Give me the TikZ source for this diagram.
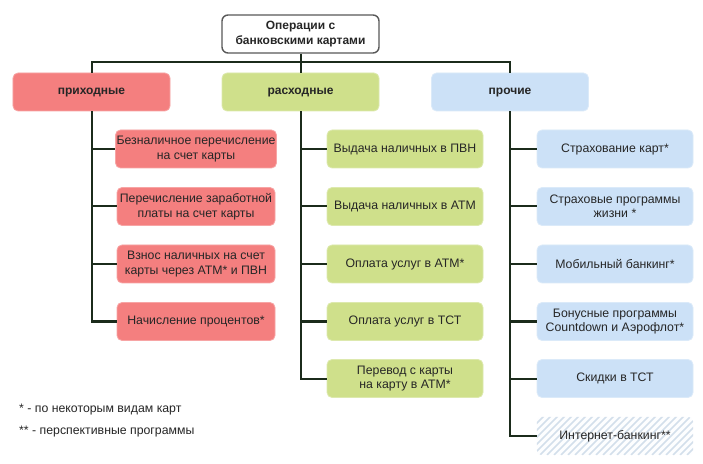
\documentclass[tikz,border=0pt]{standalone}
\usepackage{fontspec}
\setmainfont{Liberation Sans}
\definecolor{redf}{HTML}{F47F7F}
\definecolor{greenf}{HTML}{CFE08B}
\definecolor{bluef}{HTML}{CCE1F7}
\definecolor{linec}{HTML}{1B2B1B}
\definecolor{hatchc}{HTML}{D3DFEB}
\tikzset{
  box/.style={rounded corners=5bp, minimum height=38bp, align=center, inner sep=1bp, font=\fontsize{12.3bp}{14.5bp}\selectfont, text=black!85},
  cat/.style={box, minimum width=157bp, font=\fontsize{12bp}{14bp}\selectfont\bfseries, text height=7bp, text depth=1bp},
  itm/.style={box, minimum width=158bp},
  redbox/.style={fill=redf, draw=redf!70!white, line width=0.8bp},
  greenbox/.style={fill=greenf, draw=greenf!70!white, line width=0.8bp},
  bluebox/.style={fill=bluef, draw=bluef!70!white, line width=0.8bp},
  conn/.style={draw=linec, line width=2bp},
  foot/.style={anchor=west, font=\fontsize{12.3bp}{14bp}\selectfont, text=black!85, inner sep=0},
}
\begin{document}
\begin{tikzpicture}[x=1bp,y=-1bp]
\useasboundingbox (0,0) rectangle (703,464);
\fill[white] (0,0) rectangle (703,464);
% root
\node[box, minimum width=157bp, draw=black!65, line width=1.4bp, fill=white, rounded corners=6bp, font=\fontsize{12bp}{14.5bp}\selectfont\bfseries] (root) at (300.5,34) {Операции с\\банковскими картами};
% categories
\node[cat, redbox] (inc) at (91.5,92) {приходные};
\node[cat, greenbox] (exp) at (300.5,92) {расходные};
\node[cat, bluebox] (oth) at (510,92) {прочие};
% items: income
\node[itm, redbox, minimum width=158bp] (i1) at (196,149) {Безналичное перечисление\\на счет карты};
\node[itm, redbox, minimum width=158bp] (i2) at (196,206.5) {Перечисление заработной\\платы на счет карты};
\node[itm, redbox, minimum width=158bp] (i3) at (196,264) {Взнос наличных на счет\\карты через АТМ* и ПВН};
\node[itm, redbox, minimum width=158bp] (i4) at (196,321.5) {Начисление процентов*};
% items: expense
\node[itm, greenbox, minimum width=156bp] (e1) at (405,149) {Выдача наличных в ПВН};
\node[itm, greenbox, minimum width=156bp] (e2) at (405,206.5) {Выдача наличных в АТМ};
\node[itm, greenbox, minimum width=156bp] (e3) at (405,264) {Оплата услуг в АТМ*};
\node[itm, greenbox, minimum width=156bp] (e4) at (405,321.5) {Оплата услуг в ТСТ};
\node[itm, greenbox, minimum width=156bp] (e5) at (405,378.5) {Перевод с карты\\на карту в АТМ*};
% items: other
\node[itm, bluebox, minimum width=156bp] (o1) at (615,149) {Страхование карт*};
\node[itm, bluebox, minimum width=156bp] (o2) at (615,206.5) {Страховые программы\\жизни *};
\node[itm, bluebox, minimum width=156bp] (o3) at (615,264) {Мобильный банкинг*};
\node[itm, bluebox, minimum width=156bp] (o4) at (615,321.5) {Бонусные программы\\Countdown и Аэрофлот*};
\node[itm, bluebox, minimum width=156bp] (o5) at (615,378.5) {Скидки в ТСТ};
% hatched box
\node[itm, minimum width=156bp] (o6) at (615,436) {};
\begin{scope}
\clip[rounded corners=5bp] (o6.south west) rectangle (o6.north east);
\fill[white!97!bluef] (o6.south west) rectangle (o6.north east);
\foreach \k in {-60,-53,...,220} {
  \draw[hatchc, line width=1.6bp] (537+\k,455) -- ++(40,-40);
}
\end{scope}
\node[font=\fontsize{12.3bp}{14.5bp}\selectfont, text=black!85] at (o6.center) {Интернет-банкинг**};
% connectors
\coordinate (hl) at (inc.north |- 0,62);
\coordinate (hr) at (oth.north |- 0,62);
\draw[conn] (root.south) -- (exp.north);
\draw[conn] (inc.north) -- (hl) -- (hr) -- (oth.north);
\coordinate (vi) at (inc.south |- i4.west);
\coordinate (ve) at (exp.south |- e5.west);
\coordinate (vo) at (oth.south |- o6.west);
\draw[conn] (inc.south) -- (vi) -- (i4.west);
\foreach \n in {i1,i2,i3} \draw[conn] (inc.south |- \n.west) -- (\n.west);
\draw[conn] (exp.south) -- (ve) -- (e5.west);
\foreach \n in {e1,e2,e3,e4} \draw[conn] (exp.south |- \n.west) -- (\n.west);
\draw[conn] (oth.south) -- (vo) -- (o6.west);
\foreach \n in {o1,o2,o3,o4,o5} \draw[conn] (oth.south |- \n.west) -- (\n.west);
% footnotes
\node[foot] (f1) at (19,410) {* - по некоторым видам карт};
\node[foot] (f2) at (19,432) {** - перспективные программы};
\end{tikzpicture}
\end{document}
